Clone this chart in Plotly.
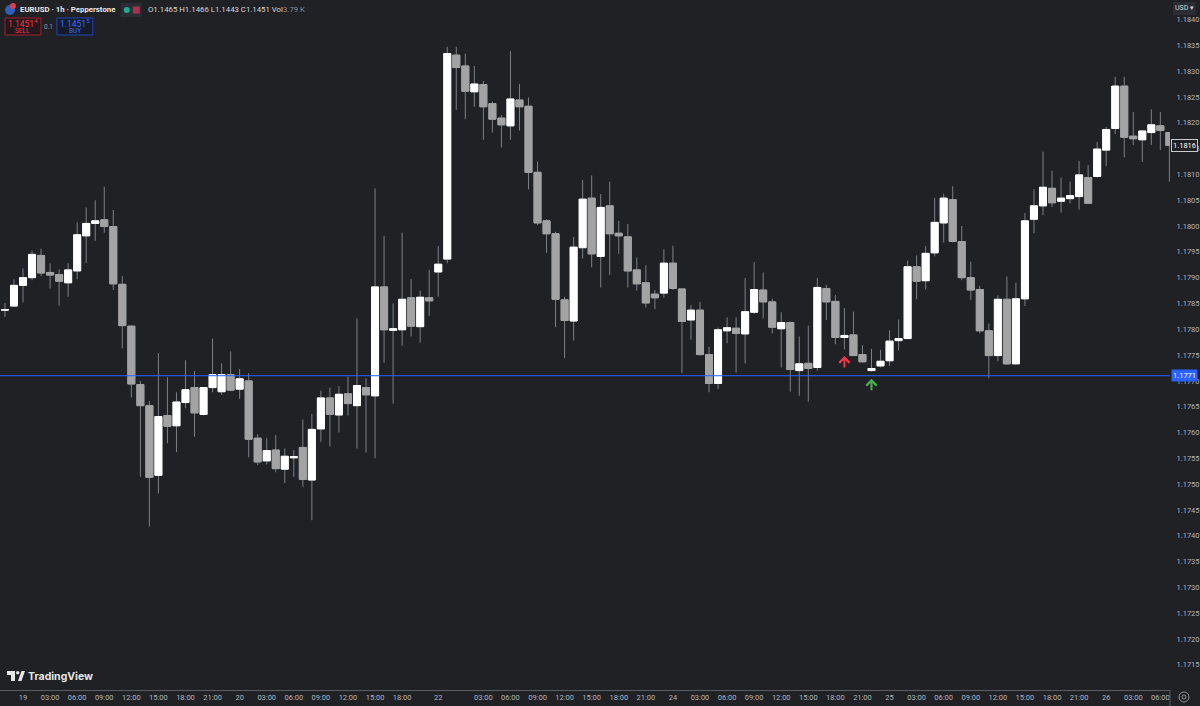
import plotly.graph_objects as go

# EURUSD 1h candles, bar index 0 = 18th 22:00 (weekend gap collapsed)
opens = [
    1.17837, 1.17845, 1.17885, 1.17900, 1.17943, 1.17910, 1.17906, 1.17890, 1.17913, 1.17981,
    1.18005, 1.18012, 1.17999, 1.17887, 1.17806, 1.17693, 1.17652, 1.17517, 1.17633, 1.17613,
    1.17658, 1.17687, 1.17635, 1.17687, 1.17679, 1.17712, 1.17684, 1.17700, 1.17589, 1.17545,
    1.17566, 1.17529, 1.17551, 1.17571, 1.17508, 1.17607, 1.17667, 1.17634, 1.17675, 1.17652,
    1.17687, 1.17671, 1.17882, 1.17798, 1.17799, 1.17861, 1.17805, 1.17861, 1.17911, 1.17936,
    1.18331, 1.18310, 1.18260, 1.18274, 1.18237, 1.18209, 1.18194, 1.18244, 1.18232, 1.18104,
    1.18010, 1.17985, 1.17857, 1.17816, 1.17958, 1.18054, 1.17941, 1.18039, 1.17986, 1.17979,
    1.17915, 1.17890, 1.17868, 1.17870, 1.17928, 1.17878, 1.17818, 1.17837, 1.17751, 1.17695,
    1.17797, 1.17802, 1.17791, 1.17833, 1.17876, 1.17853, 1.17801, 1.17813, 1.17720, 1.17734,
    1.17726, 1.17879, 1.17854, 1.17784, 1.17789, 1.17751, 1.17720, 1.17729, 1.17739, 1.17778,
    1.17782, 1.17921, 1.17894, 1.17948, 1.18006, 1.18051, 1.17970, 1.17900, 1.17877, 1.17797,
    1.17749, 1.17858, 1.17733, 1.17859, 1.18013, 1.18039, 1.18073, 1.18048, 1.18053, 1.18057,
    1.18094, 1.18096, 1.18147, 1.18189, 1.18271, 1.18174, 1.18167, 1.18181, 1.18194, 1.18181,
]
highs = [
    1.17851, 1.17897, 1.17918, 1.17952, 1.17956, 1.17928, 1.17916, 1.17928, 1.18007, 1.18036,
    1.18050, 1.18076, 1.18031, 1.17903, 1.17807, 1.17700, 1.17661, 1.17754, 1.17707, 1.17678,
    1.17740, 1.17719, 1.17688, 1.17782, 1.17734, 1.17757, 1.17723, 1.17715, 1.17597, 1.17589,
    1.17595, 1.17569, 1.17566, 1.17625, 1.17636, 1.17681, 1.17687, 1.17690, 1.17708, 1.17821,
    1.17705, 1.18073, 1.17981, 1.17850, 1.17987, 1.17897, 1.17875, 1.17915, 1.17961, 1.18347,
    1.18347, 1.18334, 1.18310, 1.18281, 1.18241, 1.18215, 1.18339, 1.18275, 1.18249, 1.18125,
    1.18013, 1.17989, 1.17863, 1.17979, 1.18089, 1.18098, 1.18062, 1.18086, 1.18010, 1.18004,
    1.17939, 1.17924, 1.17876, 1.17955, 1.17962, 1.17878, 1.17847, 1.17853, 1.17766, 1.17803,
    1.17823, 1.17823, 1.17899, 1.17930, 1.17910, 1.17859, 1.17833, 1.17815, 1.17786, 1.17807,
    1.17899, 1.17886, 1.17866, 1.17841, 1.17834, 1.17769, 1.17762, 1.17760, 1.17798, 1.17819,
    1.17933, 1.17943, 1.17961, 1.18054, 1.18063, 1.18077, 1.18000, 1.17931, 1.17884, 1.17811,
    1.17866, 1.17902, 1.17890, 1.18025, 1.18071, 1.18144, 1.18107, 1.18094, 1.18086, 1.18126,
    1.18118, 1.18163, 1.18192, 1.18289, 1.18289, 1.18221, 1.18186, 1.18226, 1.18221, 1.18181,
]
lows = [
    1.17824, 1.17843, 1.17852, 1.17895, 1.17903, 1.17879, 1.17846, 1.17863, 1.17897, 1.17928,
    1.17971, 1.17987, 1.17876, 1.17763, 1.17668, 1.17514, 1.17418, 1.17482, 1.17579, 1.17562,
    1.17647, 1.17592, 1.17633, 1.17678, 1.17673, 1.17680, 1.17665, 1.17552, 1.17537, 1.17538,
    1.17523, 1.17502, 1.17514, 1.17495, 1.17430, 1.17582, 1.17573, 1.17600, 1.17633, 1.17569,
    1.17561, 1.17550, 1.17735, 1.17656, 1.17768, 1.17786, 1.17774, 1.17826, 1.17863, 1.17928,
    1.18225, 1.18207, 1.18231, 1.18167, 1.18181, 1.18152, 1.18167, 1.18185, 1.18071, 1.18002,
    1.17948, 1.17804, 1.17744, 1.17778, 1.17937, 1.17920, 1.17881, 1.17905, 1.17946, 1.17881,
    1.17875, 1.17842, 1.17839, 1.17861, 1.17876, 1.17715, 1.17780, 1.17749, 1.17678, 1.17684,
    1.17773, 1.17716, 1.17734, 1.17830, 1.17821, 1.17792, 1.17726, 1.17679, 1.17671, 1.17660,
    1.17720, 1.17818, 1.17771, 1.17761, 1.17749, 1.17735, 1.17718, 1.17726, 1.17729, 1.17759,
    1.17781, 1.17858, 1.17877, 1.17941, 1.17968, 1.17968, 1.17895, 1.17857, 1.17792, 1.17705,
    1.17738, 1.17731, 1.17731, 1.17845, 1.17986, 1.18021, 1.18037, 1.18026, 1.18044, 1.18032,
    1.18043, 1.18094, 1.18116, 1.18178, 1.18133, 1.18157, 1.18124, 1.18157, 1.18147, 1.18086,
]
closes = [
    1.17838, 1.17885, 1.17900, 1.17945, 1.17909, 1.17905, 1.17893, 1.17915, 1.17983, 1.18005,
    1.18010, 1.17999, 1.17888, 1.17807, 1.17694, 1.17652, 1.17513, 1.17631, 1.17612, 1.17659,
    1.17683, 1.17638, 1.17687, 1.17712, 1.17712, 1.17682, 1.17704, 1.17587, 1.17543, 1.17565,
    1.17530, 1.17554, 1.17553, 1.17509, 1.17606, 1.17667, 1.17635, 1.17674, 1.17656, 1.17691,
    1.17673, 1.17882, 1.17799, 1.17801, 1.17858, 1.17806, 1.17862, 1.17855, 1.17926, 1.18334,
    1.18307, 1.18261, 1.18275, 1.18231, 1.18207, 1.18196, 1.18246, 1.18231, 1.18104, 1.18006,
    1.17985, 1.17858, 1.17817, 1.17959, 1.18052, 1.17946, 1.18036, 1.17985, 1.17981, 1.17913,
    1.17888, 1.17851, 1.17861, 1.17928, 1.17879, 1.17815, 1.17837, 1.17751, 1.17695, 1.17799,
    1.17803, 1.17792, 1.17834, 1.17877, 1.17853, 1.17804, 1.17813, 1.17722, 1.17733, 1.17724,
    1.17881, 1.17853, 1.17784, 1.17788, 1.17749, 1.17737, 1.17724, 1.17738, 1.17777, 1.17782,
    1.17921, 1.17893, 1.17947, 1.18007, 1.18054, 1.17970, 1.17900, 1.17876, 1.17797, 1.17749,
    1.17858, 1.17733, 1.17859, 1.18010, 1.18039, 1.18075, 1.18045, 1.18054, 1.18059, 1.18099,
    1.18044, 1.18149, 1.18187, 1.18271, 1.18172, 1.18169, 1.18184, 1.18196, 1.18185, 1.18156,
]
bar_index = list(range(len(opens)))

tick_vals = [2, 5, 8, 11, 14, 17, 20, 23, 26, 29, 32, 35, 38, 41, 44, 48,
             53, 56, 59, 62, 65, 68, 71, 74, 77, 80, 83, 86, 89, 92, 95, 98,
             101, 104, 107, 110, 113, 116, 119, 122, 125, 128]
tick_text = ["19", "03:00", "06:00", "09:00", "12:00", "15:00", "18:00", "21:00",
             "20", "03:00", "06:00", "09:00", "12:00", "15:00", "18:00", "22",
             "03:00", "06:00", "09:00", "12:00", "15:00", "18:00", "21:00",
             "24", "03:00", "06:00", "09:00", "12:00", "15:00", "18:00", "21:00",
             "25", "03:00", "06:00", "09:00", "12:00", "15:00", "18:00", "21:00",
             "26", "03:00", "06:00"]
price_ticks = [1.1715, 1.1720, 1.1725, 1.1730, 1.1735, 1.1740, 1.1745, 1.1750,
               1.1755, 1.1760, 1.1765, 1.1770, 1.1775, 1.1780, 1.1785, 1.1790,
               1.1795, 1.1800, 1.1805, 1.1810, 1.1815, 1.1820, 1.1825, 1.1830,
               1.1835, 1.1840]

level_price = 1.1771
last_price = 1.18156
signal_sell_bar, signal_sell_price = 93, 1.17748
signal_buy_bar, signal_buy_price = 96, 1.17704

BG = "#1f2125"
WICK = "#7d8085"
UP = "#ffffff"
DOWN = "#a3a3a3"
AXIS_TXT = "#b2b5be"
SEP = "#5a5d63"
FONT = "Roboto"

PLOT_W, PLOT_H = 1172, 690


def px(x):
    return x / PLOT_W


def py(y):
    return 1 - y / PLOT_H


fig = go.Figure()

# wicks (full range) underneath
fig.add_trace(go.Candlestick(
    x=bar_index, open=opens, high=highs, low=lows, close=closes,
    increasing=dict(line=dict(color=WICK, width=1), fillcolor=WICK),
    decreasing=dict(line=dict(color=WICK, width=1), fillcolor=WICK),
    whiskerwidth=0, hoverinfo="skip", showlegend=False,
))
# bodies on top
body_hi = [max(o, c) for o, c in zip(opens, closes)]
body_lo = [min(o, c) for o, c in zip(opens, closes)]
fig.add_trace(go.Candlestick(
    x=bar_index, open=opens, high=body_hi, low=body_lo, close=closes,
    increasing=dict(line=dict(color=UP, width=1), fillcolor=UP),
    decreasing=dict(line=dict(color=DOWN, width=1), fillcolor=DOWN),
    whiskerwidth=0, showlegend=False,
))

shapes = [
    dict(type="line", xref="paper", yref="y", x0=0, x1=1, y0=level_price, y1=level_price,
         line=dict(color="#2962ff", width=1)),
    # axis separator continuing into the time scale row
    dict(type="line", xref="paper", yref="paper", x0=1, x1=1, y0=0, y1=py(706),
         line=dict(color=SEP, width=1)),
    # header badge
    dict(type="rect", xref="paper", yref="paper", x0=px(121), x1=px(142), y0=py(3), y1=py(17),
         fillcolor="#2a2d33", line=dict(width=0)),
    dict(type="circle", xref="paper", yref="paper", x0=px(124), x1=px(130), y0=py(7), y1=py(13),
         fillcolor="#22ab94", line=dict(width=0)),
    dict(type="rect", xref="paper", yref="paper", x0=px(133), x1=px(140), y0=py(6.5), y1=py(13.5),
         fillcolor="#a8324e", line=dict(width=0)),
    # symbol icon
    dict(type="circle", xref="paper", yref="paper", x0=px(5), x1=px(15), y0=py(5), y1=py(15),
         fillcolor="#2f5fb8", line=dict(width=0)),
    dict(type="circle", xref="paper", yref="paper", x0=px(10), x1=px(16), y0=py(3), y1=py(9),
         fillcolor="#d8404f", line=dict(width=0)),
    # sell / buy boxes
    dict(type="rect", xref="paper", yref="paper", x0=px(5), x1=px(41), y0=py(18), y1=py(35),
         fillcolor="#24181c", line=dict(color="#a3202f", width=1)),
    dict(type="rect", xref="paper", yref="paper", x0=px(57), x1=px(93), y0=py(18), y1=py(35),
         fillcolor="#161b2c", line=dict(color="#2046b4", width=1)),
    # tradingview logo mark
    dict(type="rect", xref="paper", yref="paper", x0=px(7), x1=px(15), y0=py(671), y1=py(675),
         fillcolor="#e6e6e6", line=dict(width=0)),
    dict(type="rect", xref="paper", yref="paper", x0=px(11), x1=px(15), y0=py(671), y1=py(681),
         fillcolor="#e6e6e6", line=dict(width=0)),
    dict(type="circle", xref="paper", yref="paper", x0=px(16), x1=px(19.5), y0=py(671), y1=py(674.5),
         fillcolor="#e6e6e6", line=dict(width=0)),
    dict(type="path", xref="paper", yref="paper",
         path=f"M {px(18)},{py(681)} L {px(21.5)},{py(671)} L {px(25)},{py(671)} L {px(21.5)},{py(681)} Z",
         fillcolor="#e6e6e6", line=dict(width=0)),
    # currency button and settings icon
    dict(type="rect", xref="paper", yref="paper", x0=px(1175), x1=px(1198), y0=py(2), y1=py(15),
         fillcolor="#2a2d33", line=dict(width=0)),
    dict(type="circle", xref="paper", yref="paper", x0=px(1181), x1=px(1191), y0=py(692), y1=py(702),
         fillcolor=BG, line=dict(color="#8a8d93", width=1)),
    dict(type="circle", xref="paper", yref="paper", x0=px(1184), x1=px(1188), y0=py(695), y1=py(699),
         fillcolor=BG, line=dict(color="#8a8d93", width=1)),
]

annotations = [
    dict(xref="paper", yref="paper", x=px(18), y=py(10), xanchor="left", yanchor="middle",
         text="<b>EURUSD · 1h · Pepperstone</b>", showarrow=False,
         font=dict(family=FONT, size=7.8, color="#e8e9ec")),
    dict(xref="paper", yref="paper", x=px(146), y=py(10), xanchor="left", yanchor="middle",
         text="O1.1465 H1.1466 L1.1443 C1.1451 Vol<span style='color:#8a8d95'>3.79 K</span>",
         showarrow=False, font=dict(family=FONT, size=7.8, color="#d6d8de")),
    dict(xref="paper", yref="paper", x=px(23), y=py(23), xanchor="center", yanchor="middle",
         text="1.1451<sup>4</sup>", showarrow=False, font=dict(family=FONT, size=8.5, color="#f23645")),
    dict(xref="paper", yref="paper", x=px(23), y=py(30.5), xanchor="center", yanchor="middle",
         text="SELL", showarrow=False, font=dict(family=FONT, size=6.5, color="#f23645")),
    dict(xref="paper", yref="paper", x=px(49), y=py(27), xanchor="center", yanchor="middle",
         text="0.1", showarrow=False, font=dict(family=FONT, size=6.5, color="#9598a1")),
    dict(xref="paper", yref="paper", x=px(75), y=py(23), xanchor="center", yanchor="middle",
         text="1.1451<sup>5</sup>", showarrow=False, font=dict(family=FONT, size=8.5, color="#3a6cff")),
    dict(xref="paper", yref="paper", x=px(75), y=py(30.5), xanchor="center", yanchor="middle",
         text="BUY", showarrow=False, font=dict(family=FONT, size=6.5, color="#3a6cff")),
    dict(xref="paper", yref="paper", x=px(26), y=py(676), xanchor="left", yanchor="middle",
         text="<b>TradingView</b>", showarrow=False, font=dict(family="Inter", size=10.5, color="#e6e6e6")),
    dict(xref="paper", yref="paper", x=px(1186.5), y=py(8.5), xanchor="center", yanchor="middle",
         text="USD ▾", showarrow=False, font=dict(family=FONT, size=7, color="#d1d4dc")),
    # price labels on the scale
    dict(xref="paper", yref="y", x=1, y=level_price, xanchor="left", yanchor="middle", xshift=1,
         text="1.1771", showarrow=False, bgcolor="#2962ff", borderpad=1,
         font=dict(family=FONT, size=7.5, color="#ffffff")),
    dict(xref="paper", yref="y", x=1, y=last_price, xanchor="left", yanchor="middle", xshift=1,
         text="1.1816", showarrow=False, bgcolor=BG, bordercolor="#c8cad0", borderwidth=1,
         borderpad=1, font=dict(family=FONT, size=7.5, color="#ffffff")),
    # signal arrows
    dict(x=signal_sell_bar, y=signal_sell_price, ax=0, ay=13, axref="pixel", ayref="pixel",
         text="", showarrow=True, arrowhead=4, arrowwidth=2, arrowsize=1, arrowcolor="#f23645"),
    dict(x=signal_buy_bar, y=signal_buy_price, ax=0, ay=13, axref="pixel", ayref="pixel",
         text="", showarrow=True, arrowhead=4, arrowwidth=2, arrowsize=1, arrowcolor="#4caf50"),
]

fig.update_xaxes(
    range=[-0.55, 129.07],
    tickmode="array", tickvals=tick_vals, ticktext=tick_text,
    tickfont=dict(family=FONT, size=7.5, color=AXIS_TXT),
    showgrid=False, zeroline=False, showline=True, linecolor=SEP, linewidth=1,
    ticks="", rangeslider=dict(visible=False), fixedrange=True,
)
fig.update_yaxes(
    side="right", range=[1.171012, 1.184378],
    tickmode="array", tickvals=price_ticks, ticktext=[f"{v:.4f}" for v in price_ticks],
    tickfont=dict(family=FONT, size=7.5, color=AXIS_TXT),
    showgrid=False, zeroline=False, showline=False,
    ticks="outside", ticklen=4, tickcolor=BG, fixedrange=True,
)

fig.update_layout(
    width=1200, height=706,
    margin=dict(l=0, r=28, t=0, b=16),
    paper_bgcolor=BG, plot_bgcolor=BG,
    boxgap=0.22, boxgroupgap=0,
    showlegend=False, hovermode=False,
    shapes=shapes, annotations=annotations,
)

fig.write_html(
    "out.html",
    config={"displayModeBar": False},
    post_script="document.body.style.margin='0';document.body.style.overflow='hidden';",
)
